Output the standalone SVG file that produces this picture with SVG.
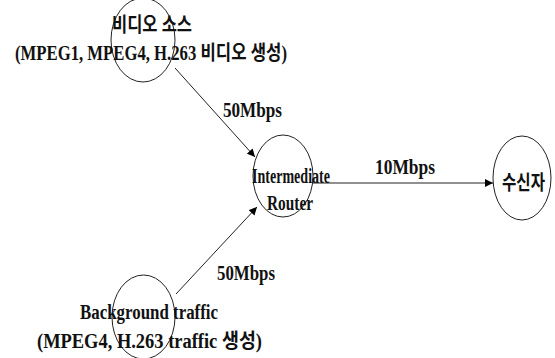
<svg xmlns="http://www.w3.org/2000/svg" width="555" height="358" viewBox="0 0 555 358">
<defs>
<marker id="arr" viewBox="0 0 10 10" refX="10" refY="5" markerWidth="8" markerHeight="8" markerUnits="userSpaceOnUse" orient="auto">
<path d="M0,0 L10,5 L0,10 z" fill="#000"/>
</marker>
</defs>
<style>
.n{fill:none;stroke:#222;stroke-width:1}
.t{font-family:"Liberation Serif","Noto Sans CJK KR",serif;font-size:20px;fill:#111;font-weight:bold}
.e{stroke:#222;stroke-width:1;fill:none}
</style>
<rect width="555" height="358" fill="#fff"/>
<g id="connectors">
<line class="e" x1="175" y1="68" x2="255" y2="157" marker-end="url(#arr)"/>
<line class="e" x1="176" y1="294" x2="257" y2="207" marker-end="url(#arr)"/>
<line class="e" x1="313" y1="183" x2="493" y2="183" marker-end="url(#arr)"/>
<text class="t" x="223" y="117" textLength="59" lengthAdjust="spacingAndGlyphs">50Mbps</text>
<text class="t" x="375" y="174" textLength="60" lengthAdjust="spacingAndGlyphs">10Mbps</text>
<text class="t" x="217" y="280" textLength="58" lengthAdjust="spacingAndGlyphs">50Mbps</text>
</g>
<g id="video-source">
<ellipse class="n" cx="143" cy="40" rx="32" ry="42"/>
<text class="t" x="112" y="32" textLength="80" lengthAdjust="spacingAndGlyphs">비디오 소스</text>
<text class="t" x="15" y="60" textLength="272" lengthAdjust="spacingAndGlyphs">(MPEG1, MPEG4, H.263 비디오 생성)</text>
</g>
<g id="router">
<ellipse class="n" cx="283" cy="176" rx="30" ry="41"/>
<text class="t" x="252" y="183" font-size="17" textLength="78" lengthAdjust="spacingAndGlyphs">Intermediate</text>
<text class="t" x="267" y="210" textLength="46" lengthAdjust="spacingAndGlyphs">Router</text>
</g>
<g id="receiver">
<ellipse class="n" cx="522" cy="178" rx="29" ry="42"/>
<text class="t" x="502" y="190" textLength="43" lengthAdjust="spacingAndGlyphs">수신자</text>
</g>
<g id="background">
<ellipse class="n" cx="143.5" cy="317" rx="31.5" ry="42"/>
<text class="t" x="80" y="319" textLength="138" lengthAdjust="spacingAndGlyphs">Background traffic</text>
<text class="t" x="37" y="348" textLength="225" lengthAdjust="spacingAndGlyphs">(MPEG4, H.263 traffic 생성)</text>
</g>
</svg>
